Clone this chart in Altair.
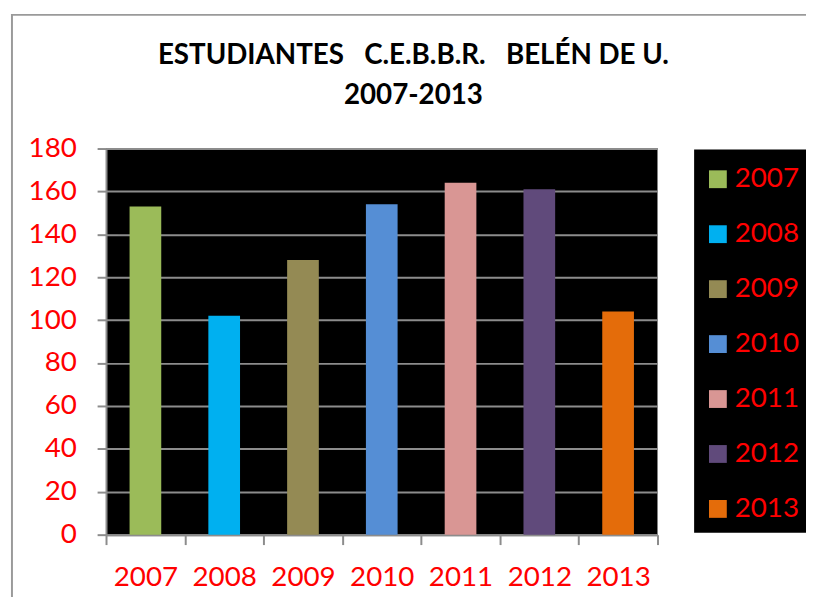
import altair as alt
import pandas as pd

years = ["2007", "2008", "2009", "2010", "2011", "2012", "2013"]
students = [153, 102, 128, 154, 164, 161, 104]
colors = ["#9BBB59", "#00B0F0", "#948A54", "#558ED5", "#D99694", "#604A7B", "#E46C0A"]
y_ticks = [0, 20, 40, 60, 80, 100, 120, 140, 160, 180]
title_lines = ["ESTUDIANTES\u00a0\u00a0\u00a0C.E.B.B.R.\u00a0\u00a0\u00a0BELÉN DE U.", "2007-2013"]

df = pd.DataFrame({"Año": years, "Estudiantes": students})

FONT = "Lato"
RED = "#FF0000"
GRAY = "#8C8C8C"

one = pd.DataFrame({"k": [0]})
frame_top = alt.Chart(one).mark_rule(
    stroke="#9A9A9A", strokeWidth=2, clip=False
).encode(x=alt.value(-96), x2=alt.value(720), y=alt.value(-135))
frame_left = alt.Chart(one).mark_rule(
    stroke="#9A9A9A", strokeWidth=2, clip=False
).encode(x=alt.value(-95), y=alt.value(-136), y2=alt.value(600))

bars = alt.Chart(df).mark_bar(size=32).encode(
    x=alt.X(
        "Año:N",
        sort=years,
        title=None,
        scale=alt.Scale(paddingInner=0, paddingOuter=0),
        axis=alt.Axis(
            labelAngle=0, labelColor=RED, labelFont=FONT, labelFontSize=28,
            labelPadding=19, tickBand="extent", tickSize=10, tickColor=GRAY,
            tickWidth=2, domainColor=GRAY, domainWidth=2, grid=False,
        ),
    ),
    y=alt.Y(
        "Estudiantes:Q",
        title=None,
        scale=alt.Scale(domain=[0, 180], nice=False),
        axis=alt.Axis(
            values=y_ticks, labelColor=RED, labelFont=FONT, labelFontSize=28,
            labelPadding=21, tickSize=9, tickColor=GRAY, tickWidth=2,
            domainColor=GRAY, domainWidth=2, gridColor=GRAY, gridWidth=2,
        ),
    ),
    color=alt.Color(
        "Año:N",
        sort=years,
        scale=alt.Scale(domain=years, range=colors),
        legend=alt.Legend(
            title="\u00a0", titleFontSize=1, titlePadding=5,
            orient="none", legendX=594, legendY=1,
            fillColor="black", padding=10, symbolType="square",
            symbolSize=324, symbolStrokeWidth=0, labelColor=RED,
            labelFont=FONT, labelFontSize=28, labelOffset=3, rowPadding=27.5,
        ),
    ),
)

chart = alt.layer(frame_top, frame_left, bars).properties(
    width=557,
    height=390,
    background="white",
    autosize=alt.AutoSizeParams(type="none"),
    padding={"left": 99, "top": 139, "right": 150, "bottom": 60},
    title=alt.TitleParams(
        text=title_lines, font=FONT, fontSize=28, fontWeight="bold",
        color="black", anchor="middle", frame="group", dx=32, offset=0,
        dy=126, lineHeight=40, baseline="bottom",
    ),
).configure_view(fill="black", strokeWidth=0)

chart.save("out.html", embed_options={"renderer": "svg", "actions": False})
